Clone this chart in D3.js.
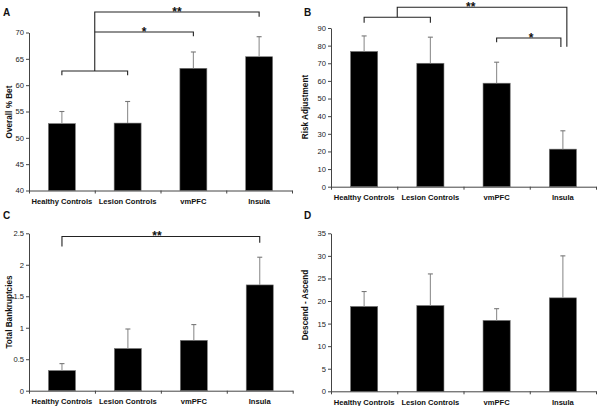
<!DOCTYPE html>
<html><head><meta charset="utf-8">
<script src="https://cdn.jsdelivr.net/npm/d3@7"></script>
<style>
html,body{margin:0;padding:0;background:#fff;}
svg{display:block;font-family:"Liberation Sans",Arial,sans-serif;}
</style></head>
<body><svg id="c" width="598" height="406"></svg>
<script>
const categories = ["Healthy Controls","Lesion Controls","vmPFC","Insula"];

const betValues = [52.7, 52.8, 63.2, 65.4];
const betErrors = [2.3, 4.1, 3.1, 3.8];
const betTicks = [40,45,50,55,60,65,70];

const riskValues = [76.7, 70.0, 58.7, 21.3];
const riskErrors = [8.8, 14.8, 11.9, 10.4];
const riskTicks = [0,10,20,30,40,50,60,70,80,90];

const bankValues = [0.32, 0.67, 0.80, 1.68];
const bankErrors = [0.11, 0.31, 0.25, 0.44];
const bankTicks = [0,0.5,1,1.5,2,2.5];

const descValues = [18.8, 19.0, 15.7, 20.7];
const descErrors = [3.3, 7.0, 2.6, 9.3];
const descTicks = [0,5,10,15,20,25,30,35];

// significance brackets: polylines in (category index, value) coordinates
const betBrackets = [
  [[0,61.9],[0,62.7],[1,62.7],[1,61.9]],
  [[0.5,62.7],[0.5,73.9],[3,73.9],[3,73.0]],
  [[0.5,70.1],[2,70.1],[2,69.3]]
];
const betStars = [{i:1.25, v:70.1, t:"*"},{i:1.75, v:73.9, t:"**"}];

const riskBrackets = [
  [[0,93.0],[0,96.1],[1,96.1],[1,93.0]],
  [[0.5,96.1],[0.5,101.8],[3.06,101.8],[3.06,79.4]],
  [[2,81.9],[2,84.3],[2.97,84.3],[2.97,79.2]]
];
const riskStars = [{i:2.52, v:84.3, t:"*"},{i:1.61, v:101.8, t:"**"}];

const bankBrackets = [
  [[0,2.29],[0,2.45],[3,2.45],[3,2.35]]
];
const bankStars = [{i:1.44, v:2.45, t:"**"}];

const descBrackets = [];
const descStars = [];

const svg = d3.select("#c");

function panel(o){
  const g = svg.append("g");
  const y = d3.scaleLinear().domain(o.domain).range([o.yBot, o.yTop]);
  const x = d3.scaleBand().domain(categories).range([o.x0, o.x1]).paddingInner(0.59).paddingOuter(0.295);
  const step = x.step();
  const xc = i => x(categories[0]) + x.bandwidth()/2 + i*step;
  const edge = d3.scaleLinear().domain([0,4]).range([o.x0, o.x1]);

  // bars
  g.selectAll("rect.bar").data(o.values).join("rect")
    .attr("x", (d,i)=>x(categories[i]))
    .attr("y", d=>y(d))
    .attr("width", x.bandwidth())
    .attr("height", d=>y(o.domain[0]) - y(d))
    .attr("fill","#000").attr("stroke","#777").attr("stroke-width",0.6);

  // error bars (upper only)
  const eb = g.selectAll("g.eb").data(o.values).join("g");
  eb.append("line")
    .attr("x1",(d,i)=>xc(i)).attr("x2",(d,i)=>xc(i))
    .attr("y1",d=>y(d)).attr("y2",(d,i)=>y(d+o.errors[i]))
    .attr("stroke","#8f8f8f").attr("stroke-width",1.1);
  eb.append("line")
    .attr("x1",(d,i)=>xc(i)-2.5).attr("x2",(d,i)=>xc(i)+2.5)
    .attr("y1",(d,i)=>y(d+o.errors[i])).attr("y2",(d,i)=>y(d+o.errors[i]))
    .attr("stroke","#777").attr("stroke-width",1.1);

  // y axis
  const ya = g.append("g").attr("transform",`translate(${o.x0},0)`)
    .call(d3.axisLeft(y).tickValues(o.ticks).tickSize(3).tickSizeOuter(0).tickPadding(2)
      .tickFormat(d=>String(d)));
  ya.select(".domain").attr("stroke","#444");
  ya.selectAll(".tick line").attr("stroke","#444");
  ya.selectAll(".tick text").attr("font-size","7.6px").attr("fill","#222")
    .attr("font-family","'Liberation Sans',Arial,sans-serif");

  // x axis: ticks at category boundaries
  const xa = g.append("g").attr("transform",`translate(0,${o.yBot})`)
    .call(d3.axisBottom(edge).tickValues([0,1,2,3,4]).tickSize(3).tickSizeOuter(0).tickFormat(""));
  xa.select(".domain").attr("stroke","#444");
  xa.selectAll(".tick line").attr("stroke","#444");
  g.append("g").selectAll("text").data(categories).join("text")
    .attr("x",(d,i)=>xc(i)).attr("y",o.yBot+13.5)
    .attr("text-anchor","middle").attr("font-size","7.6px").attr("font-weight","bold")
    .attr("fill","#111").text(d=>d);

  // y title
  g.append("text")
    .attr("transform",`translate(${o.titleX},${o.titleY}) rotate(-90)`)
    .attr("text-anchor","middle").attr("font-size","8.2px").attr("font-weight","bold")
    .attr("fill","#111").text(o.title);

  // panel letter
  g.append("text").attr("x",o.letterX).attr("y",o.letterY)
    .attr("font-size","10px").attr("font-weight","bold").attr("fill","#111").text(o.letter);

  // brackets
  const line = d3.line().x(p=>xc(p[0])).y(p=>y(p[1]));
  g.selectAll("path.br").data(o.brackets).join("path")
    .attr("d", line).attr("fill","none").attr("stroke","#222").attr("stroke-width",1.1);
  g.selectAll("text.st").data(o.stars).join("text")
    .attr("x",d=>xc(d.i)).attr("y",d=>y(d.v)+3.8)
    .attr("text-anchor","middle").attr("font-size","12px").attr("font-weight","bold")
    .attr("fill","#111").text(d=>d.t);
}

panel({values:betValues, errors:betErrors, ticks:betTicks, domain:[40,70],
  x0:29, x1:292, yTop:32.5, yBot:190.5, title:"Overall % Bet", titleX:12, titleY:112,
  letter:"A", letterX:3, letterY:16, brackets:betBrackets, stars:betStars});
panel({values:riskValues, errors:riskErrors, ticks:riskTicks, domain:[0,90],
  x0:331, x1:596, yTop:28, yBot:186.7, title:"Risk Adjustment", titleX:308, titleY:107,
  letter:"B", letterX:304, letterY:16, brackets:riskBrackets, stars:riskStars});
panel({values:bankValues, errors:bankErrors, ticks:bankTicks, domain:[0,2.5],
  x0:29, x1:292.7, yTop:233.3, yBot:390.7, title:"Total Bankruptcies", titleX:12, titleY:312,
  letter:"C", letterX:3, letterY:219, brackets:bankBrackets, stars:bankStars});
panel({values:descValues, errors:descErrors, ticks:descTicks, domain:[0,35],
  x0:331, x1:596, yTop:233.3, yBot:391.3, title:"Descend - Ascend", titleX:308, titleY:305,
  letter:"D", letterX:304, letterY:219, brackets:descBrackets, stars:descStars});
</script></body></html>
